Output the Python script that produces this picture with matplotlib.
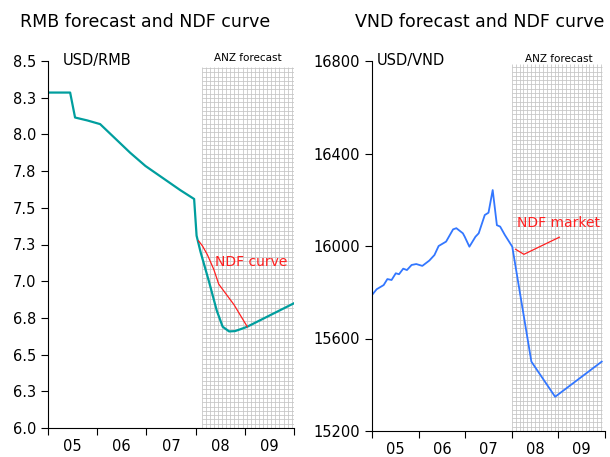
import numpy as np
import matplotlib
matplotlib.use('Agg')
import matplotlib.pyplot as plt

# USD/RMB spot and ANZ forecast (fractional years)
rmb_t = [2005.0, 2005.45, 2005.55, 2005.8, 2006.06, 2006.67, 2006.98, 2007.69,
         2007.97, 2008.02, 2008.1, 2008.27, 2008.43, 2008.55, 2008.68, 2008.8,
         2008.93, 2009.05, 2010.0]
rmb_v = [8.285, 8.285, 8.115, 8.095, 8.07, 7.875, 7.785, 7.62,
         7.56, 7.31, 7.2, 7.0, 6.8, 6.69, 6.658, 6.66, 6.675, 6.69, 6.85]

# RMB NDF curve
rmb_ndf_t = [2008.06, 2008.14, 2008.24, 2008.37, 2008.47, 2008.78, 2009.05]
rmb_ndf_v = [7.275, 7.24, 7.18, 7.08, 6.98, 6.84, 6.69]

# USD/VND spot and ANZ forecast
vnd_t = [2005.0, 2005.1, 2005.25, 2005.33, 2005.42, 2005.51, 2005.58, 2005.67,
         2005.75, 2005.85, 2005.95, 2006.08, 2006.23, 2006.34, 2006.43, 2006.59,
         2006.74, 2006.81, 2006.95, 2006.99, 2007.09, 2007.22, 2007.29, 2007.42,
         2007.5, 2007.59, 2007.68, 2007.75, 2007.85, 2008.01, 2008.42, 2008.93,
         2009.93]
vnd_v = [15788, 15813, 15831, 15857, 15853, 15882, 15878, 15902,
         15896, 15918, 15922, 15914, 15937, 15961, 16000, 16019,
         16072, 16077, 16055, 16040, 15997, 16040, 16055, 16134,
         16144, 16242, 16090, 16084, 16048, 15997, 15500, 15348,
         15500]

# VND NDF market
vnd_ndf_t = [2008.08, 2008.26, 2009.02]
vnd_ndf_v = [15986, 15964, 16038]

years = [2005, 2006, 2007, 2008, 2009, 2010]
year_labels = ['05', '06', '07', '08', '09']

rmb_ticks = [6.0, 6.25, 6.5, 6.75, 7.0, 7.25, 7.5, 7.75, 8.0, 8.25, 8.5]
rmb_tick_labels = ['6.0', '6.3', '6.5', '6.8', '7.0', '7.3', '7.5', '7.8',
                   '8.0', '8.3', '8.5']
vnd_ticks = [15200, 15600, 16000, 16400, 16800]

TEAL = '#009e9e'
BLUE = '#3377ff'
RED = '#ff2020'
GRID = '#c4c4c4'


def forecast_grid(ax, x0, x1, y0, y1, dy):
    # fine monthly grid shading the forecast period
    xs = np.arange(x0, x1 + 1e-6, 1 / 12)
    ys = np.arange(y0, y1 + 1e-6, dy)
    ax.vlines(xs, y0, y1, color=GRID, lw=0.55, zorder=1)
    ax.hlines(ys, x0, x1, color=GRID, lw=0.55, zorder=1)


def style_axes(ax, xmax):
    for side in ('top', 'right'):
        ax.spines[side].set_visible(False)
    ax.set_xlim(2005, xmax)
    ax.set_xticks(years)
    ax.set_xticklabels([])
    ax.set_xticks([y + 0.5 for y in years[:-1]], minor=True)
    ax.set_xticklabels(year_labels, minor=True)
    ax.tick_params(axis='x', which='minor', length=0, pad=8, labelsize=10.5)
    ax.tick_params(axis='x', which='major', length=5, direction='out')
    ax.tick_params(axis='y', length=5, direction='out', labelsize=10.5)


fig = plt.figure(figsize=(6.1, 4.57), dpi=100)

ax1 = fig.add_axes([48 / 610, 1 - 428 / 457, 246 / 610, 367 / 457])
forecast_grid(ax1, 2008.12, 2010.0, 6.0, 8.46, 0.0292)
ax1.plot(rmb_ndf_t, rmb_ndf_v, color=RED, lw=0.9, zorder=3)
ax1.plot(rmb_t, rmb_v, color=TEAL, lw=1.6, zorder=2)
style_axes(ax1, 2010.0)
ax1.set_ylim(6.0, 8.5)
ax1.set_yticks(rmb_ticks)
ax1.set_yticklabels(rmb_tick_labels)
ax1.text(0.06, 1.0, 'USD/RMB', transform=ax1.transAxes, fontsize=10.5,
         va='center', ha='left')
ax1.text(2009.07, 8.52, 'ANZ forecast', fontsize=7.5, ha='center', va='center')
ax1.text(2009.12, 7.13, 'NDF curve', color=RED, fontsize=10, ha='center',
         va='center')

ax2 = fig.add_axes([372 / 610, 1 - 431 / 457, 233 / 610, 370 / 457])
forecast_grid(ax2, 2008.0, 2009.93, 15200, 16785, 18.5)
ax2.plot(vnd_ndf_t, vnd_ndf_v, color=RED, lw=0.9, zorder=3)
ax2.plot(vnd_t, vnd_v, color=BLUE, lw=1.3, zorder=2)
style_axes(ax2, 2009.93)
ax2.set_ylim(15200, 16800)
ax2.set_yticks(vnd_ticks)
ax2.text(0.02, 1.0, 'USD/VND', transform=ax2.transAxes, fontsize=10.5,
         va='center', ha='left')
ax2.text(2009.0, 16808, 'ANZ forecast', fontsize=7.5, ha='center', va='center',
         clip_on=False)
ax2.text(2009.0, 16098, 'NDF market', color=RED, fontsize=10, ha='center',
         va='center')

fig.text(20 / 610, 1 - 22 / 457, 'RMB forecast and NDF curve', fontsize=12.5,
         va='center', ha='left')
fig.text(355 / 610, 1 - 22 / 457, 'VND forecast and NDF curve', fontsize=12.5,
         va='center', ha='left')

fig.savefig('out.png', dpi=100)
